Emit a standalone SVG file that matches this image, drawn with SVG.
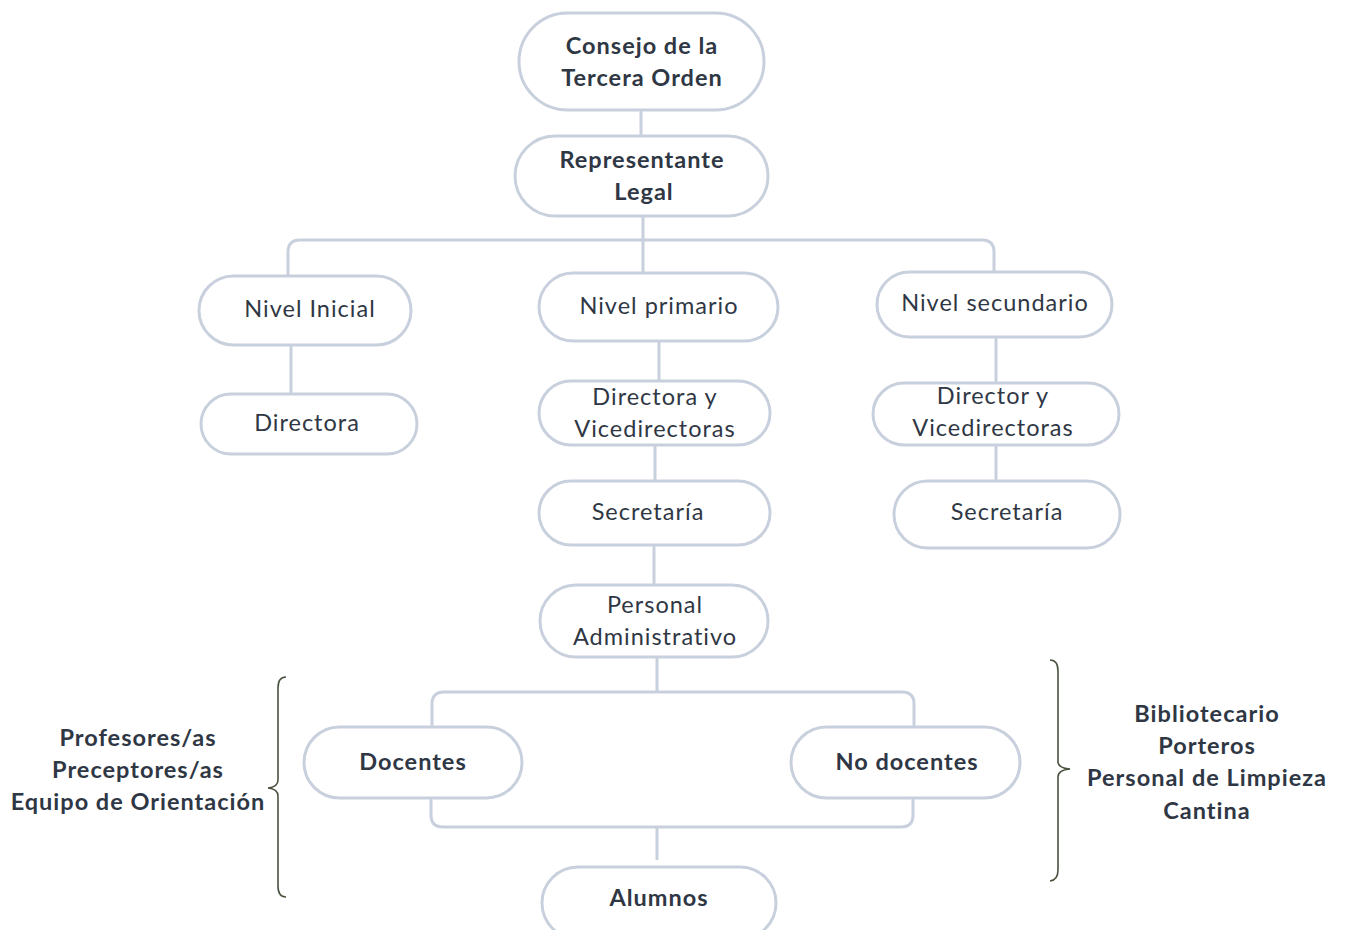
<svg xmlns="http://www.w3.org/2000/svg" width="1347" height="930" viewBox="0 0 1347 930">
<style>
.n{fill:#fff;stroke:#c9d0dd;stroke-width:3}
.c{fill:none;stroke:#c9d0dd;stroke-width:3}
.b{fill:none;stroke:#4a5340;stroke-width:1.6}
text{font-family:Lato,"Open Sans",sans-serif;font-size:23.5px;fill:#2f3744;text-anchor:middle;letter-spacing:1px}
.bd{font-weight:bold}
</style>
<rect width="1347" height="930" fill="#fff"/>
<g id="connectors">
<path class="c" d="M641 110V136"/>
<path class="c" d="M643 216V240"/>
<path class="c" d="M288 276V252Q288 240 300 240H982Q994 240 994 252V272"/>
<path class="c" d="M643 240V273"/>
<path class="c" d="M291 345V394"/>
<path class="c" d="M659 341V381"/>
<path class="c" d="M655 445V481"/>
<path class="c" d="M654 545V585"/>
<path class="c" d="M996 337V383"/>
<path class="c" d="M996 445V481"/>
<path class="c" d="M657 657V692"/>
<path class="c" d="M432 727V704Q432 692 444 692H902Q914 692 914 704V727"/>
<path class="c" d="M431 798V815Q431 827 443 827H901Q913 827 913 815V798"/>
<path class="c" d="M657 827V860"/>
</g>
<g id="consejo"><rect class="n" x="519" y="13" width="245" height="97" rx="48.5"/><text class="bd" x="642" y="54">Consejo de la</text><text class="bd" x="642" y="86">Tercera Orden</text></g>
<g id="representante"><rect class="n" x="515" y="136" width="253" height="80" rx="40"/><text class="bd" x="642" y="168">Representante</text><text class="bd" x="644" y="200">Legal</text></g>
<g id="nivel-inicial"><rect class="n" x="199" y="276" width="212" height="69" rx="34.5"/><text x="310" y="317">Nivel Inicial</text></g>
<g id="nivel-primario"><rect class="n" x="539" y="273" width="239" height="68" rx="34"/><text x="659" y="314">Nivel primario</text></g>
<g id="nivel-secundario"><rect class="n" x="877" y="272" width="235" height="65" rx="32.5"/><text x="995" y="311">Nivel secundario</text></g>
<g id="directora"><rect class="n" x="201" y="394" width="216" height="60" rx="30"/><text x="307" y="431">Directora</text></g>
<g id="directora-vice"><rect class="n" x="539" y="381" width="231" height="64" rx="32"/><text x="655" y="405">Directora y</text><text x="655" y="437">Vicedirectoras</text></g>
<g id="secretaria-primario"><rect class="n" x="539" y="481" width="231" height="64" rx="32"/><text x="648" y="520">Secretaría</text></g>
<g id="personal-admin"><rect class="n" x="540" y="585" width="228" height="72" rx="36"/><text x="655" y="613">Personal</text><text x="655" y="645">Administrativo</text></g>
<g id="director-vice"><rect class="n" x="873" y="383" width="246" height="62" rx="31"/><text x="993" y="404">Director y</text><text x="993" y="436">Vicedirectoras</text></g>
<g id="secretaria-secundario"><rect class="n" x="894" y="481" width="226" height="67" rx="33.5"/><text x="1007" y="520">Secretaría</text></g>
<g id="docentes"><rect class="n" x="304" y="727" width="218" height="71" rx="35.5"/><text class="bd" x="413" y="770">Docentes</text></g>
<g id="no-docentes"><rect class="n" x="791" y="727" width="229" height="71" rx="35.5"/><text class="bd" x="907" y="770">No docentes</text></g>
<g id="alumnos"><rect class="n" x="542" y="867" width="234" height="72" rx="36"/><text class="bd" x="659" y="906">Alumnos</text></g>
<g id="docentes-brace"><path class="b" d="M286 677Q278 677 278 688V780Q278 787 268 788Q278 789 278 796V886Q278 897 286 897"/><text class="bd" x="138" y="746">Profesores/as</text><text class="bd" x="138" y="778">Preceptores/as</text><text class="bd" x="138" y="810">Equipo de Orientación</text></g>
<g id="no-docentes-brace"><path class="b" d="M1050 660Q1058 660 1058 671V762Q1058 768 1070 769Q1058 770 1058 777V870Q1058 880 1050 881"/><text class="bd" x="1207" y="722">Bibliotecario</text><text class="bd" x="1207" y="754">Porteros</text><text class="bd" x="1207" y="786">Personal de Limpieza</text><text class="bd" x="1207" y="819">Cantina</text></g>
</svg>
